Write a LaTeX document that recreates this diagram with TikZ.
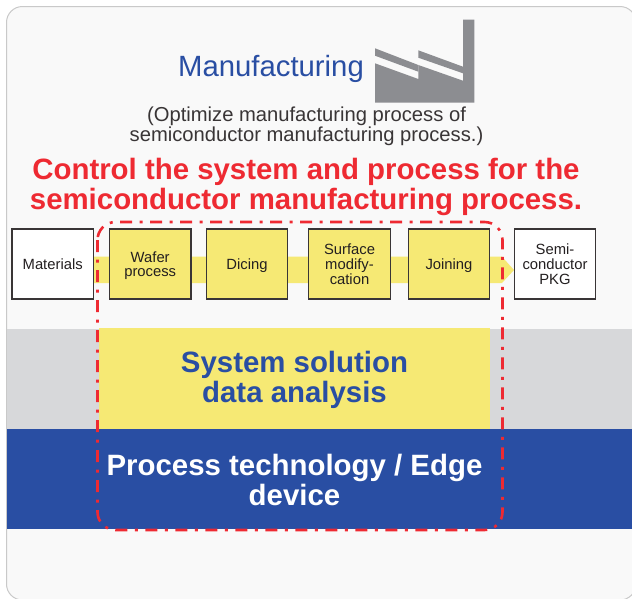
\documentclass[tikz,border=0pt]{standalone}
\usepackage{fontspec}
\setmainfont{Liberation Sans}
\definecolor{panelfill}{HTML}{F9F9F9}
\definecolor{panelline}{HTML}{C9C9C9}
\definecolor{ylw}{HTML}{F6E974}
\definecolor{gry}{HTML}{D7D8DA}
\definecolor{blu}{HTML}{294EA3}
\definecolor{rd}{HTML}{EE2A32}
\definecolor{fac}{HTML}{8C8D91}
\definecolor{txt}{HTML}{231F20}
\tikzset{
  x=1pt,y=-1pt,
  procbox/.style={draw=txt!90,line width=1.1pt,minimum width=81.5pt,minimum height=70pt,inner sep=0pt,align=center,font=\fontsize{14.8}{15}\selectfont,text=txt},
  whitebox/.style={procbox,fill=white},
  ylwbox/.style={procbox,fill=ylw},
  band/.style={inner sep=0pt,align=center,font=\fontsize{29.4}{30}\selectfont\bfseries}
}
\begin{document}
\begin{tikzpicture}
\useasboundingbox (0,0) rectangle (632,598);
\fill[white] (0,0) rectangle (632,598);
\begin{scope}
\clip (0,0) rectangle (632,598);
\draw[panelline,fill=panelfill,line width=1pt,rounded corners=16pt] (6.5,6.5) rectangle (636,600);
\end{scope}
% bands
\fill[gry] (6.5,329) rectangle (632,429);
\fill[blu] (6.5,429) rectangle (632,529);
\fill[ylw] (99,328) rectangle (490,428.5);
\node[band,text=blu] (sys) at (294.5,379.5) {System solution\\data analysis};
\node[band,text=white] (edge) at (294.5,480) {Process technology / Edge\\device};
% arrow band
\fill[ylw] (94,256.7) -- (502,256.7) -- (514,270) -- (502,283) -- (94,283) -- cycle;
% boxes
\node[whitebox] (mat) at (52.7,264) {Materials};
\node[ylwbox] (waf) at (150.2,264) {\rule{0pt}{14pt}Wafer\\[-1pt]process};
\node[ylwbox] (dic) at (247,264) {\rule{0pt}{14.5pt}Dicing};
\node[ylwbox] (sur) at (349.5,264) {Surface\\modify-\\cation};
\node[ylwbox] (joi) at (449,264) {\rule{0pt}{14.5pt}Joining};
\node[whitebox] (pkg) at (555,264) {Semi-\\conductor\\PKG};
% factory
\fill[fac] (463,19.7) -- (474.3,19.7) -- (474.3,102.7) -- (375,102.7) -- (375,63.3) -- (418.3,79) -- (418.3,65) -- (463,80.7) -- cycle;
\fill[fac] (375,48.3) -- (418.3,65) -- (418.3,71.7) -- (375,55.7) -- cycle;
\fill[fac] (418.3,50.3) -- (463,66.7) -- (463,73.3) -- (418.3,57.7) -- cycle;
% texts
\node[inner sep=0pt,text=blu,font=\fontsize{29.3}{30}\selectfont] (title) at (271,69) {Manufacturing};
\node[inner sep=0pt,align=center,text=txt!90,font=\fontsize{20.2}{20}\selectfont] (sub) at (306.5,126) {(Optimize manufacturing process of\\semiconductor manufacturing process.)};
\node[inner sep=0pt,align=center,text=rd,font=\fontsize{29.4}{30}\selectfont\bfseries] (ctrl) at (306,187) {Control the system and process for the\\semiconductor manufacturing process.};
% red outline
\draw[rd,line width=2.6pt,dash pattern=on 12pt off 7.5pt on 3pt off 7.5pt,rounded corners=18pt] (97.5,222) rectangle (502.5,530);
\end{tikzpicture}
\end{document}
